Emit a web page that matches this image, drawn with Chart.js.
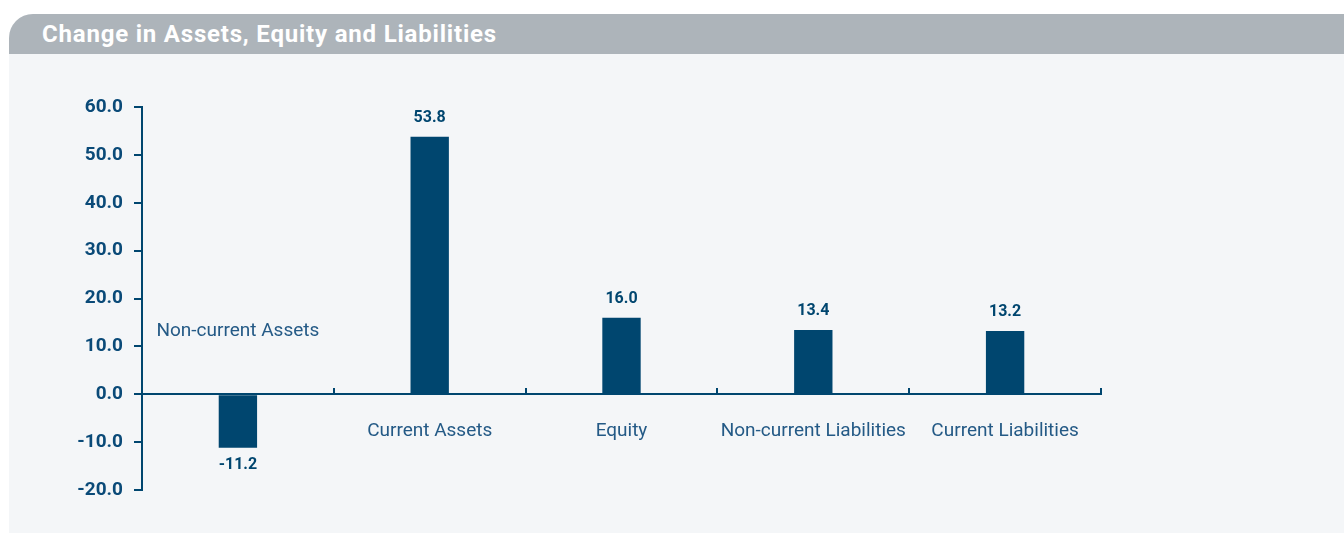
<!DOCTYPE html>
<html>
<head>
<meta charset="utf-8">
<script src="https://cdn.jsdelivr.net/npm/chart.js@4"></script>
<style>
  html, body { margin: 0; padding: 0; background: #ffffff; }
  body { width: 1344px; height: 534px; position: relative; overflow: hidden; font-family: Roboto, sans-serif; }
  #panel {
    position: absolute; left: 9px; top: 14px; width: 1335px; height: 519px;
    background: #f4f6f8; border-top-left-radius: 24px; overflow: hidden;
  }
  #header {
    height: 40px; background: #adb4ba; color: #ffffff;
    font: bold 24px Roboto, sans-serif; letter-spacing: 0.8px; line-height: 40px; padding-left: 33px;
  }
  #chart { position: absolute; left: 0; top: 0; }
</style>
</head>
<body>
<div id="panel"><div id="header">Change in Assets, Equity and Liabilities</div></div>
<canvas id="chart" width="1344" height="534"></canvas>
<script>
    const categories = ['Non-current Assets', 'Current Assets', 'Equity', 'Non-current Liabilities', 'Current Liabilities'];
    const changes = [-11.2, 53.8, 16.0, 13.4, 13.2];
    const yMin = -20;
    const yMax = 60;
    const yStep = 10;

    const navy = '#00466f';
    const labelBlue = '#245a86';

    // draws value labels above/below bars and the category names on the other side of the zero line
    const barLabels = {
        id: 'barLabels',
        afterDatasetsDraw(chart) {
            const ctx = chart.ctx;
            const zero = chart.scales.y.getPixelForValue(0);
            const bars = chart.getDatasetMeta(0).data;
            ctx.save();
            ctx.textAlign = 'center';
            ctx.textBaseline = 'middle';
            bars.forEach((bar, i) => {
                const v = changes[i];
                ctx.fillStyle = navy;
                ctx.font = 'bold 16px Roboto';
                ctx.fillText(v.toFixed(1), bar.x, v >= 0 ? bar.y - 19 : bar.y + 17);
                ctx.fillStyle = labelBlue;
                ctx.font = '19px Roboto';
                ctx.fillText(categories[i], bar.x, v >= 0 ? zero + 37 : zero - 63);
            });
            ctx.restore();
        }
    };

    const chart = new Chart(document.getElementById('chart'), {
        type: 'bar',
        data: {
            labels: categories,
            datasets: [{
                data: changes,
                backgroundColor: navy,
                borderWidth: 0,
                barPercentage: 0.2,
                categoryPercentage: 1
            }]
        },
        options: {
            responsive: false,
            animation: false,
            devicePixelRatio: 1,
            layout: { padding: { left: 0, right: 243, top: 107, bottom: 44 } },
            plugins: { legend: { display: false }, tooltip: { enabled: false } },
            scales: {
                x: {
                    position: { y: 0 },
                    offset: true,
                    grid: { display: true, offset: true, drawOnChartArea: false, drawTicks: true, tickLength: -7, color: navy, lineWidth: 2 },
                    border: { display: true, color: navy, width: 2 },
                    ticks: { display: false }
                },
                y: {
                    min: yMin,
                    max: yMax,
                    afterFit(scale) { scale.width = 142; },
                    grid: { drawOnChartArea: false, drawTicks: true, tickLength: 8, color: navy, lineWidth: 2 },
                    border: { display: true, color: navy, width: 2 },
                    ticks: {
                        stepSize: yStep,
                        padding: 11,
                        color: '#0a4a78',
                        font: { family: 'Roboto', size: 19, weight: 'bold' },
                        callback: v => v.toFixed(1)
                    }
                }
            }
        },
        plugins: [barLabels]
    });
</script>
</body>
</html>
